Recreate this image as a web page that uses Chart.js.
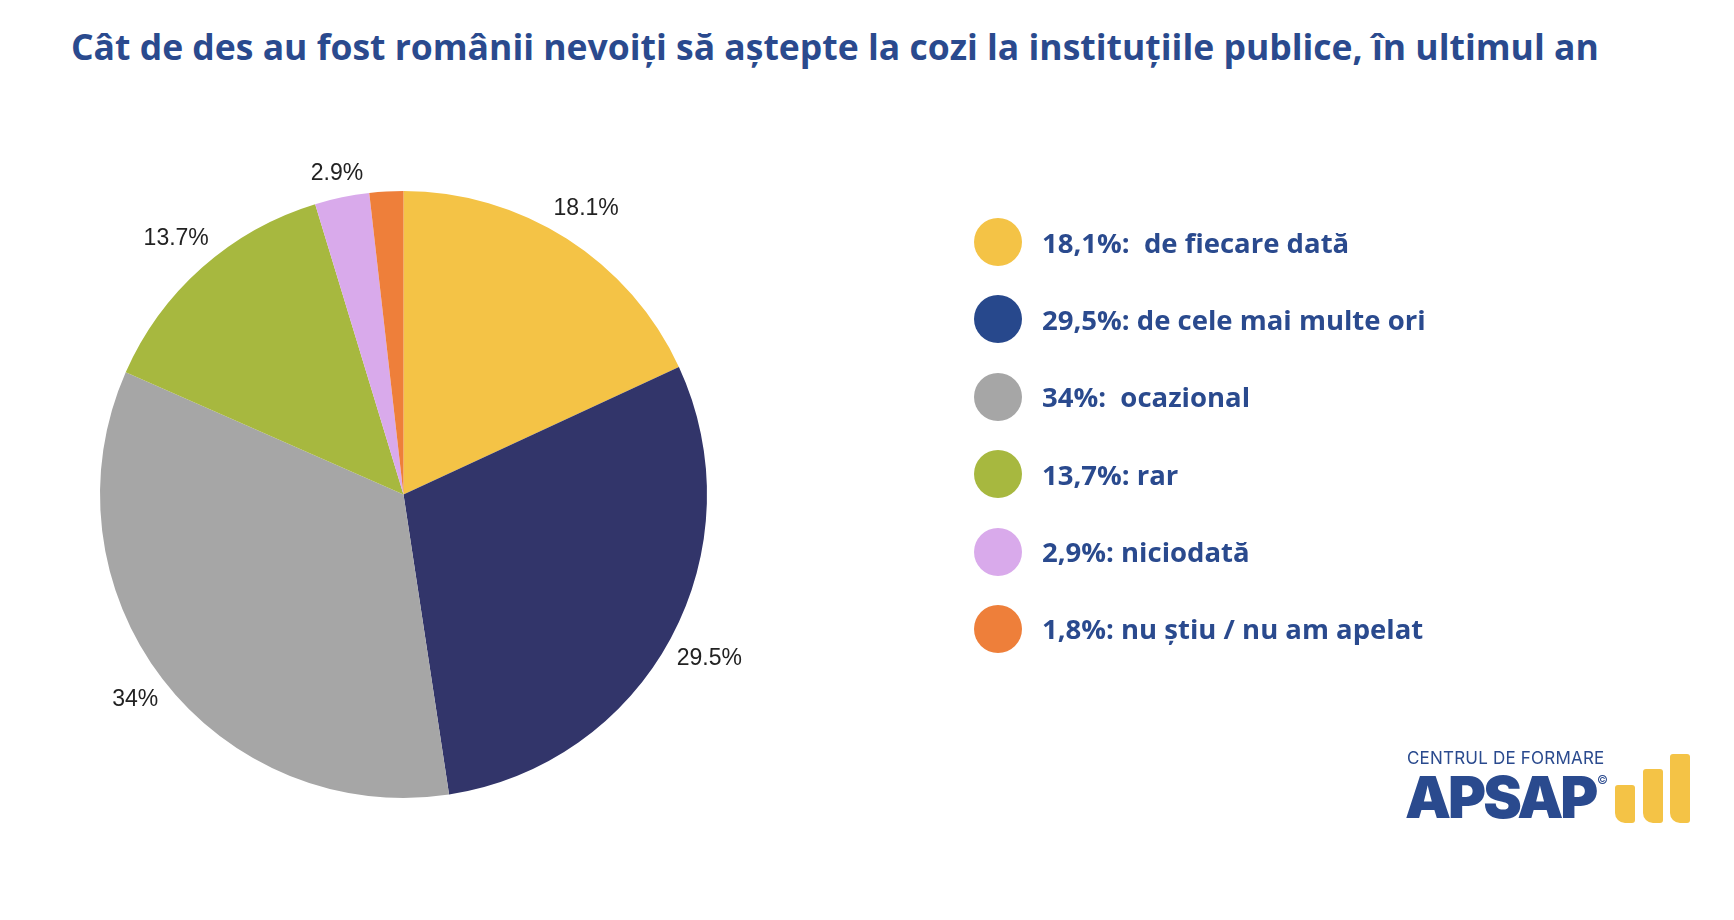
<!DOCTYPE html>
<html lang="ro">
<head>
<meta charset="utf-8">
<title>Cozi la instituțiile publice</title>
<script src="https://cdn.jsdelivr.net/npm/chart.js@4.4.1/dist/chart.umd.min.js"></script>
<style>
  html, body { margin: 0; padding: 0; background: #fff; }
  body { width: 1734px; height: 920px; position: relative; overflow: hidden; font-family: "Open Sans", sans-serif; }
  #title {
    position: absolute; left: 71px; top: 22px; margin: 0;
    font-size: 35.5px; font-weight: 700; color: #2a4a8e; white-space: nowrap;
  }
  #chart-box { position: absolute; left: 0; top: 0; width: 1734px; height: 920px; }
  #legend { position: absolute; left: 974px; top: 218px; }
  .row { display: flex; align-items: center; height: 48px; margin-bottom: 29.4px; }
  .dot { width: 48px; height: 48px; border-radius: 50%; flex: none; }
  .txt { margin-left: 20px; font-size: 27.5px; font-weight: 700; color: #2a4a8e; white-space: pre; }
  #logo { position: absolute; left: 1407px; top: 748px; width: 300px; height: 80px; }
  #logo .small { position: absolute; left: 0; top: 0; font-family: Inter, sans-serif; font-size: 17px; color: #2a4a8e; letter-spacing: 0.2px; }
  #logo .big { position: absolute; left: -2px; top: 14px; font-family: Inter, sans-serif; font-weight: 900; font-size: 58px; line-height: 70px; color: #2a4a8e; letter-spacing: -3px; }
  #logo .copy { position: absolute; left: 190px; top: 24px; font-family: Inter, sans-serif; font-size: 12px; color: #2a4a8e; }
  #logo .bar { position: absolute; bottom: 5px; width: 20px; background: #f4c346; border-radius: 3px 3px 3px 10px; }
</style>
</head>
<body>
<h1 id="title">Cât de des au fost românii nevoiți să aștepte la cozi la instituțiile publice, în ultimul an</h1>
<div id="chart-box"><canvas id="pie"></canvas></div>
<div id="legend"></div>
<div id="logo">
  <div class="small">CENTRUL DE FORMARE</div>
  <div class="big">APSAP</div>
  <div class="copy">©</div>
  <div class="bar" style="left:208px;height:38px"></div>
  <div class="bar" style="left:236px;height:54px"></div>
  <div class="bar" style="left:263px;height:69px"></div>
</div>
<script>
// data
const categories = ['de fiecare dată', 'de cele mai multe ori', 'ocazional', 'rar', 'niciodată', 'nu știu / nu am apelat'];
const values = [18.1, 29.5, 34, 13.7, 2.9, 1.8];
const sliceLabels = ['18.1%', '29.5%', '34%', '13.7%', '2.9%', ''];
const legendLabels = ['18,1%:  de fiecare dată', '29,5%: de cele mai multe ori', '34%:  ocazional', '13,7%: rar', '2,9%: niciodată', '1,8%: nu știu / nu am apelat'];

const sliceColors = ['#f4c346', '#32356a', '#a6a6a6', '#a7b83f', '#d9aaeb', '#ee7f3a'];
const legendColors = ['#f4c346', '#27488c', '#a6a6a6', '#a7b83f', '#d9aaeb', '#ee7f3a'];

// legend on the right
const legend = document.getElementById('legend');
legendLabels.forEach((lbl, i) => {
    let row = document.createElement('div');
    row.className = 'row';
    row.innerHTML = '<span class="dot" style="background:' + legendColors[i] + '"></span><span class="txt"></span>';
    row.querySelector('.txt').textContent = lbl;
    legend.appendChild(row);
});

// percentage labels just outside each slice, pushed out by the label's own box
const outsideLabels = {
    id: 'outsideLabels',
    afterDatasetsDraw(chart) {
        let ctx = chart.ctx;
        let meta = chart.getDatasetMeta(0);
        ctx.save();
        ctx.font = '23px "Liberation Sans", Arial, sans-serif';
        ctx.fillStyle = '#222';
        ctx.textAlign = 'center';
        ctx.textBaseline = 'middle';
        meta.data.forEach((arc, i) => {
            if (!sliceLabels[i]) return;
            let mid = (arc.startAngle + arc.endAngle) / 2;
            let cx = Math.cos(mid), sy = Math.sin(mid);
            let halfW = ctx.measureText(sliceLabels[i]).width / 2;
            let r = arc.outerRadius + 11 + Math.abs(cx) * halfW + Math.abs(sy) * 8.5;
            ctx.fillText(sliceLabels[i], arc.x + cx * r, arc.y + sy * r);
        });
        ctx.restore();
    }
};

new Chart(document.getElementById('pie'), {
    type: 'pie',
    data: {
        labels: categories,
        datasets: [{
            data: values,
            backgroundColor: sliceColors,
            borderWidth: 0
        }]
    },
    options: {
        responsive: true,
        maintainAspectRatio: false,
        animation: false,
        layout: { padding: { left: 100, top: 191, right: 1027, bottom: 122 } },
        plugins: {
            legend: { display: false },
            tooltip: { enabled: false }
        }
    },
    plugins: [outsideLabels]
});
</script>
</body>
</html>
